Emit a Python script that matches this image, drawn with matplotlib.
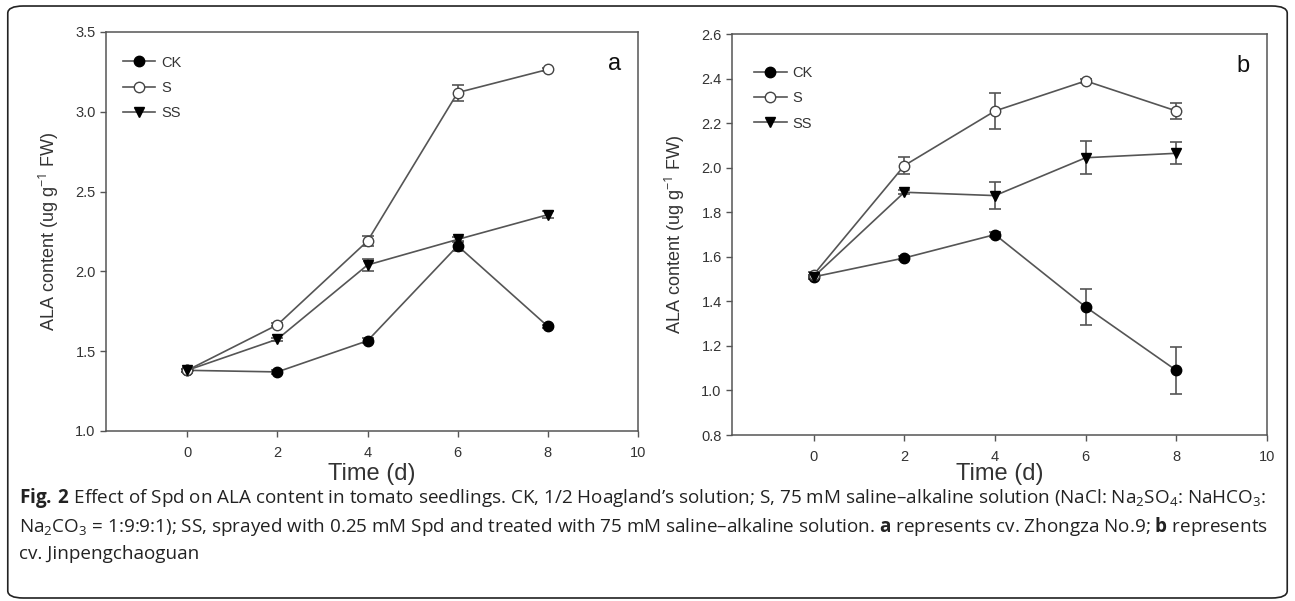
"""ALA content in tomato seedlings: two panels with error bars and a caption."""

import matplotlib.pyplot as plt
from matplotlib.lines import Line2D
from matplotlib.patches import FancyBboxPatch

plt.rcParams["font.family"] = ["Liberation Sans", "DejaVu Sans"]
plt.rcParams["mathtext.fontset"] = "custom"
plt.rcParams["mathtext.rm"] = "Open Sans"
plt.rcParams["mathtext.bf"] = "Open Sans:bold"

days = [0, 2, 4, 6, 8]
series_names = ["CK", "S", "SS"]

# panel a (cv. Zhongza No.9)
a_ck = [1.38, 1.37, 1.565, 2.16, 1.655]
a_s = [1.38, 1.665, 2.19, 3.12, 3.265]
a_ss = [1.38, 1.575, 2.04, 2.20, 2.355]
a_ck_err = [0.01, 0.01, 0.015, 0.03, 0.01]
a_s_err = [0.01, 0.01, 0.03, 0.05, 0.01]
a_ss_err = [0.01, 0.01, 0.04, 0.015, 0.02]

# panel b (cv. Jinpengchaoguan)
b_ck = [1.51, 1.595, 1.70, 1.375, 1.09]
b_s = [1.52, 2.01, 2.255, 2.39, 2.255]
b_ss = [1.51, 1.89, 1.875, 2.045, 2.065]
b_ck_err = [0.01, 0.01, 0.01, 0.08, 0.105]
b_s_err = [0.01, 0.04, 0.08, 0.01, 0.035]
b_ss_err = [0.01, 0.01, 0.06, 0.075, 0.05]

GREY = "#555555"
TEXT = "#333333"

marker_style = {
    "CK": dict(marker="o", markerfacecolor="black", markeredgecolor="black"),
    "S": dict(marker="o", markerfacecolor="white", markeredgecolor="#444444"),
    "SS": dict(marker="v", markerfacecolor="black", markeredgecolor="black"),
}


def draw_panel(ax, values, errors, ylim, yticks, letter, legend_anchor, xlabel_pad):
    handles = []
    for name, vals, errs in zip(series_names, values, errors):
        ax.errorbar(days, vals, yerr=errs, color=GREY, lw=1.2, ms=7.5,
                    capsize=4, elinewidth=1.2, capthick=1.2,
                    ecolor=GREY, **marker_style[name])
        handles.append(Line2D([], [], color=GREY, lw=1.2, ms=7.5, label=name,
                              **marker_style[name]))
    ax.set_xlim(-1.8, 10)
    ax.set_ylim(*ylim)
    ax.set_xticks([0, 2, 4, 6, 8, 10])
    ax.set_yticks(yticks)
    ax.tick_params(direction="out", length=4, width=1, colors=GREY,
                   labelcolor=TEXT, labelsize=10.5, top=False, right=False)
    ax.tick_params(axis="x", pad=7)
    for spine in ax.spines.values():
        spine.set_color(GREY)
        spine.set_linewidth(1.1)
    ax.set_xlabel("Time (d)", fontsize=17, color=TEXT, labelpad=xlabel_pad)
    ax.set_ylabel("ALA content (ug g$^{-1}$ FW)", fontsize=13, color=TEXT,
                  labelpad=10)
    ax.text(0.955, 0.92, letter, transform=ax.transAxes, fontsize=17,
            ha="center", va="center", color="#111111")
    ax.legend(handles=handles, loc="upper left", frameon=False, fontsize=10.5,
              handlelength=2.2, handletextpad=0.4, labelspacing=0.78,
              borderaxespad=0.4, labelcolor=TEXT, bbox_to_anchor=legend_anchor)


fig = plt.figure(figsize=(12.95, 6.01), dpi=100)
ax_a = fig.add_axes([0.0819, 0.2829, 0.4108, 0.664])
ax_b = fig.add_axes([0.5653, 0.2762, 0.4131, 0.667])

draw_panel(ax_a, [a_ck, a_s, a_ss], [a_ck_err, a_s_err, a_ss_err],
           (1.0, 3.5), [1.0, 1.5, 2.0, 2.5, 3.0, 3.5], "a", (0.01, 0.97), 2)
draw_panel(ax_b, [b_ck, b_s, b_ss], [b_ck_err, b_s_err, b_ss_err],
           (0.8, 2.6), [0.8, 1.0, 1.2, 1.4, 1.6, 1.8, 2.0, 2.2, 2.4, 2.6], "b",
           (0.02, 0.95), -1)

# rounded frame around the whole figure
frame = FancyBboxPatch((0.006, 0.005), 0.988, 0.985,
                       boxstyle="round,pad=0,rounding_size=0.012",
                       transform=fig.transFigure, fill=False, ec="#222222", lw=1.2)
fig.patches.append(frame)

caption = [
    r"$\mathbf{Fig.\,2}$ Effect of Spd on ALA content in tomato seedlings. CK, 1/2 Hoagland’s solution; "
    r"S, 75 mM saline–alkaline solution (NaCl: Na$_2$SO$_4$: NaHCO$_3$:",
    r"Na$_2$CO$_3$ = 1:9:9:1); SS, sprayed with 0.25 mM Spd and treated with 75 mM saline–alkaline solution. "
    r"$\mathbf{a}$ represents cv. Zhongza No.9; $\mathbf{b}$ represents",
    "cv. Jinpengchaoguan",
]
for i, line in enumerate(caption):
    fig.text(0.0145, 1 - (498 + 28 * i) / 601, line, fontsize=13.6,
             family=["Open Sans", "DejaVu Sans"], color="#222222", va="center")

fig.savefig("out.png", dpi=100)
